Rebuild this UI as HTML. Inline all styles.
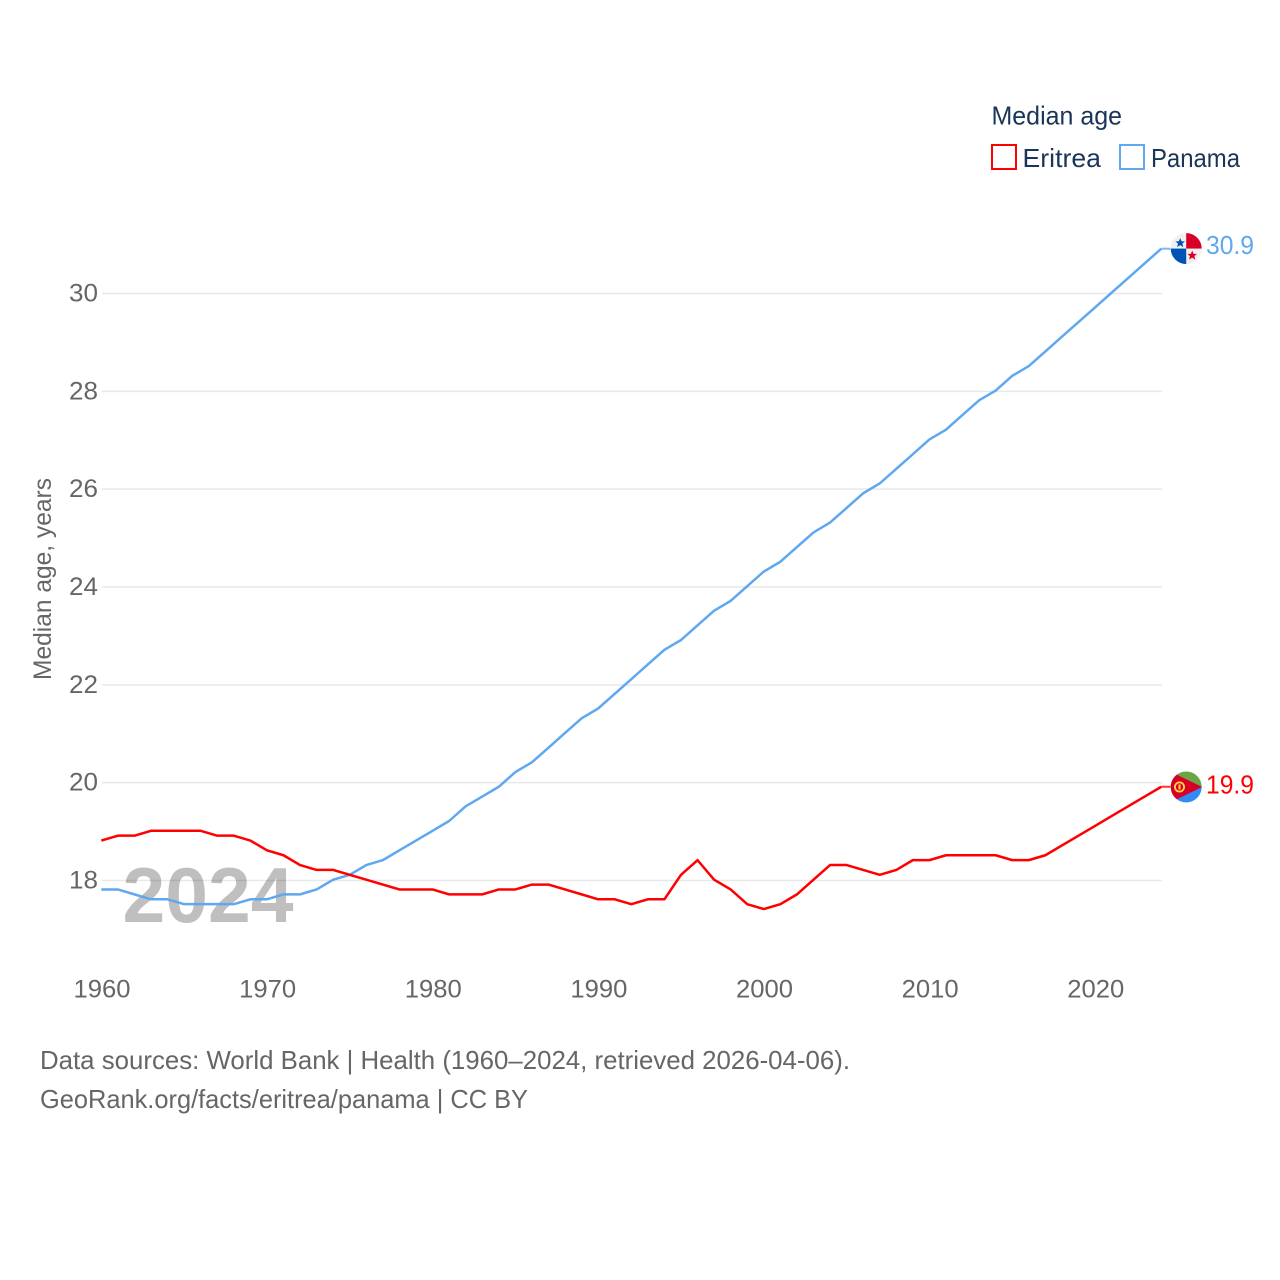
<!DOCTYPE html>
<html lang="en">
<head>
<meta charset="utf-8">
<title>Median age: Eritrea and Panama</title>
<style>
html,body{margin:0;padding:0;background:#fff;width:1280px;height:1280px;overflow:hidden}
svg{display:block}
text{font-family:"Liberation Sans",sans-serif}
</style>
</head>
<body>
<svg id="chart" xmlns="http://www.w3.org/2000/svg" width="1280" height="1280" viewBox="0 0 1280 1280">
  <rect width="1280" height="1280" fill="#fff"/>
  <g id="grid"></g>
  <text x="122.5" y="922" font-size="78" font-weight="bold" fill="#000" fill-opacity="0.25" textLength="171" lengthAdjust="spacingAndGlyphs">2024</text>
  <g id="yticks"></g>
  <g id="xticks"></g>
  <g id="series" transform="translate(-0.7,-0.8)"></g>
  <text transform="translate(51,680) rotate(-90)" font-size="25" fill="#666" textLength="202" lengthAdjust="spacingAndGlyphs">Median age, years</text>

  <g>
    <text x="991.5" y="124.5" font-size="26" fill="#1a3557" textLength="130.5" lengthAdjust="spacingAndGlyphs">Median age</text>
    <rect x="992" y="145" width="24" height="24" fill="none" stroke="#ff0000" stroke-width="2"/>
    <text x="1022.5" y="167" font-size="26" fill="#1a3557" textLength="78.5" lengthAdjust="spacingAndGlyphs">Eritrea</text>
    <rect x="1120" y="145" width="24" height="24" fill="none" stroke="#5fa8f0" stroke-width="2"/>
    <text x="1151" y="167" font-size="26" fill="#1a3557" textLength="89" lengthAdjust="spacingAndGlyphs">Panama</text>
  </g>

  <defs>
    <clipPath id="flag-clip"><circle cx="0" cy="0" r="15.5"/></clipPath>
  </defs>
  <g id="flag-panama">
    <g clip-path="url(#flag-clip)">
      <rect x="-16" y="-16" width="32" height="32" fill="#f0f0f0"/>
      <rect x="0" y="-16" width="16" height="16" fill="#d80027"/>
      <rect x="-16" y="0" width="16" height="16" fill="#0052b4"/>
      <polygon points="-6,-10.5 -4.6,-7.2 -1.2,-7.2 -3.8,-4.9 -2.9,-1.5 -6,-3.4 -9.1,-1.5 -8.2,-4.9 -10.8,-7.2 -7.4,-7.2" fill="#0052b4"/>
      <polygon points="6,2 7.4,5.3 10.8,5.3 8.2,7.6 9.1,11 6,9.1 2.9,11 3.8,7.6 1.2,5.3 4.6,5.3" fill="#d80027"/>
    </g>
  </g>
  <g id="flag-eritrea">
    <g clip-path="url(#flag-clip)">
      <rect x="-16" y="-16" width="32" height="16" fill="#6da544"/>
      <rect x="-16" y="0" width="32" height="16" fill="#338af3"/>
      <polygon points="-16,-15.5 16,0 -16,15.5" fill="#d80027"/>
      <circle cx="-6.7" cy="0" r="4.6" fill="none" stroke="#ffda44" stroke-width="1.8"/>
      <rect x="-7.7" y="-2.5" width="2" height="5" fill="#ffda44"/>
    </g>
  </g>
  <text id="value-panama" x="1206" font-size="26" fill="#5fa8f0" textLength="48" lengthAdjust="spacingAndGlyphs"></text>
  <text id="value-eritrea" x="1206" font-size="26" fill="#ff0000" textLength="48" lengthAdjust="spacingAndGlyphs"></text>

  <g>
    <text x="40" y="1069" font-size="26" fill="#666" textLength="810" lengthAdjust="spacingAndGlyphs">Data sources: World Bank | Health (1960–2024, retrieved 2026-04-06).</text>
    <text x="40" y="1108" font-size="26" fill="#666" textLength="488" lengthAdjust="spacingAndGlyphs">GeoRank.org/facts/eritrea/panama | CC BY</text>
  </g>
</svg>
<script>
const startYear = 1960;
const eritreaValues = [18.8,18.9,18.9,19.0,19.0,19.0,19.0,18.9,18.9,18.8,18.6,18.5,18.3,18.2,18.2,18.1,18.0,17.9,17.8,17.8,17.8,17.7,17.7,17.7,17.8,17.8,17.9,17.9,17.8,17.7,17.6,17.6,17.5,17.6,17.6,18.1,18.4,18.0,17.8,17.5,17.4,17.5,17.7,18.0,18.3,18.3,18.2,18.1,18.2,18.4,18.4,18.5,18.5,18.5,18.5,18.4,18.4,18.5,18.7,18.9,19.1,19.3,19.5,19.7,19.9];
const panamaValues = [17.8,17.8,17.7,17.6,17.6,17.5,17.5,17.5,17.5,17.6,17.6,17.7,17.7,17.8,18.0,18.1,18.3,18.4,18.6,18.8,19.0,19.2,19.5,19.7,19.9,20.2,20.4,20.7,21.0,21.3,21.5,21.8,22.1,22.4,22.7,22.9,23.2,23.5,23.7,24.0,24.3,24.5,24.8,25.1,25.3,25.6,25.9,26.1,26.4,26.7,27.0,27.2,27.5,27.8,28.0,28.3,28.5,28.8,29.1,29.4,29.7,30.0,30.3,30.6,30.9];
const yTicks = [18,20,22,24,26,28,30];
const xTicks = [1960,1970,1980,1990,2000,2010,2020];

const NS = 'http://www.w3.org/2000/svg';
function xScale(year){ return 102 + (year - 1960) * (1162 - 102) / 64; }
function yScale(v){ return 880.5 - (v - 18) * (880.5 - 293.5) / 12; }
function make(tag, attrs, parent){
  const el = document.createElementNS(NS, tag);
  for (const k in attrs) el.setAttribute(k, attrs[k]);
  parent.appendChild(el);
  return el;
}

const gridG = document.getElementById('grid');
const yG = document.getElementById('yticks');
const xG = document.getElementById('xticks');
const seriesG = document.getElementById('series');

yTicks.forEach(function(t){
  const line = make('line', {x1:102, x2:1162, y1:yScale(t), y2:yScale(t), stroke:'#e8e8e8', 'stroke-width':1.5}, gridG);
  
  
  const label = make('text', {x:98, y:yScale(t)+8, 'text-anchor':'end', 'font-size':25, fill:'#666', textLength:29, lengthAdjust:'spacingAndGlyphs'}, yG);
  
  
  label.textContent = t;
});

xTicks.forEach(function(t){
  const label = make('text', {x:xScale(t), y:997.5, 'text-anchor':'middle', 'font-size':25, fill:'#666', textLength:57, lengthAdjust:'spacingAndGlyphs'}, xG);
  
  
  label.textContent = t;
});

function drawSeries(values, color, lineName, stubName){
  const pts = values.map(function(v, i){ return xScale(startYear + i).toFixed(2) + ',' + yScale(v).toFixed(2); }).join(' ');
  const line = make('polyline', {points:pts, fill:'none', stroke:color, 'stroke-width':2.5, 'stroke-linejoin':'round'}, seriesG);
  
  
  const lastY = yScale(values[values.length - 1]);
  const lastX = xScale(startYear + values.length - 1);
  const stub = make('line', {x1:lastX, x2:lastX + 9, y1:lastY, y2:lastY, stroke:color, 'stroke-width':2, 'stroke-opacity':0.8}, seriesG);
  
  
}
drawSeries(panamaValues, '#5fa8f0', 'series-line-panama', 'end-connector-panama');
drawSeries(eritreaValues, '#ff0000', 'series-line-eritrea', 'end-connector-eritrea');

const lastP = panamaValues[panamaValues.length - 1];
const lastE = eritreaValues[eritreaValues.length - 1];
document.getElementById('flag-panama').setAttribute('transform', 'translate(1186.2,' + (yScale(lastP) - 0.9) + ')');
document.getElementById('flag-eritrea').setAttribute('transform', 'translate(1186.2,' + (yScale(lastE) - 0.6) + ')');
const vp = document.getElementById('value-panama');
vp.setAttribute('y', yScale(lastP) + 4.6);
vp.textContent = lastP.toFixed(1);
const ve = document.getElementById('value-eritrea');
ve.setAttribute('y', yScale(lastE) + 5.9);
ve.textContent = lastE.toFixed(1);
</script>
</body>
</html>
